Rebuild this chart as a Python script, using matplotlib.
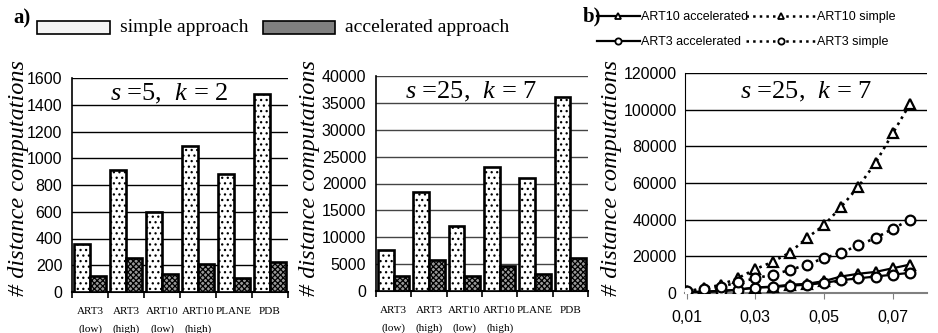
import numpy as np
import matplotlib
matplotlib.use("Agg")
import matplotlib.pyplot as plt
from matplotlib.patches import Rectangle
from matplotlib.lines import Line2D

plt.rcParams['mathtext.fontset'] = 'custom'
plt.rcParams['mathtext.rm'] = 'Liberation Serif'
plt.rcParams['mathtext.it'] = 'Liberation Serif:italic'
plt.rcParams['hatch.linewidth'] = 0.9

SERIF = 'Liberation Serif'
SANS = 'Liberation Sans'

# ---- data -------------------------------------------------------------
datasets = ["ART3\n(low)", "ART3\n(high)", "ART10\n(low)", "ART10\n(high)", "PLANE", "PDB"]

simple_s5 = [360, 910, 600, 1090, 882, 1480]
accel_s5 = [120, 255, 137, 212, 102, 227]

simple_s25 = [7700, 18500, 12100, 23000, 21100, 36000]
accel_s25 = [2850, 5750, 2850, 4650, 3250, 6150]

radius = [0.01, 0.015, 0.02, 0.025, 0.03, 0.035, 0.04, 0.045,
          0.05, 0.055, 0.06, 0.065, 0.07, 0.075]
art10_simple = [1000, 2500, 4500, 8200, 13000, 17000, 22000, 30000,
                37000, 47000, 58000, 71000, 87000, 103000]
art3_simple = [1000, 2000, 3500, 5800, 8000, 10000, 12500, 15500,
               19000, 22000, 26000, 30000, 35000, 40000]
art10_accel = [200, 500, 1000, 1800, 3000, 3500, 4500, 5000,
               6500, 9000, 10500, 11500, 13500, 15500]
art3_accel = [500, 800, 1200, 1800, 3000, 3200, 4000, 4500,
              5500, 7000, 8000, 9000, 10000, 11000]

W, H = 938, 333
fig = plt.figure(figsize=(W / 100, H / 100), dpi=100)


def px_axes(l, r, t, b):
    return fig.add_axes([l / W, 1 - b / H, (r - l) / W, (b - t) / H])


def bar_panel(ax, simple, accel, ymax, step, title, gridcol):
    x = np.arange(len(datasets))
    bw = 0.44
    ax.bar(x - bw / 2, simple, bw, color='white', edgecolor='black',
           hatch='...', linewidth=1.9, zorder=3)
    ax.bar(x + bw / 2, accel, bw, color='#9a9a9a', edgecolor='black',
           hatch='xxxxxx', linewidth=1.9, zorder=3)
    ax.set_xlim(-0.5, len(datasets) - 0.5)
    ax.set_ylim(0, ymax)
    ax.set_yticks(np.arange(0, ymax + 1, step))
    ax.grid(axis='y', color=gridcol, linewidth=1.0, zorder=0)
    ax.set_axisbelow(True)
    ax.set_xticks(x)
    ax.set_xticklabels(datasets, fontfamily=SERIF, fontsize=8, linespacing=2.1,
                       va='top')
    ax.set_xticks(np.arange(-0.5, len(datasets)), minor=True)
    ax.tick_params(axis='x', which='major', length=0, pad=11)
    ax.tick_params(axis='x', which='minor', length=4, width=1.2, direction='out')
    ax.tick_params(axis='y', length=0, labelsize=11.5, pad=7)
    for lab in ax.get_yticklabels():
        lab.set_fontfamily(SANS)
    for s in ['top', 'right']:
        ax.spines[s].set_visible(False)
    ax.spines['left'].set_linewidth(1.2)
    ax.spines['bottom'].set_linewidth(1.5)
    ax.text(0.45, 0.925, title, transform=ax.transAxes, ha='center', va='center',
            fontfamily=SERIF, fontsize=19)


ax1 = px_axes(72, 288, 78, 292)
bar_panel(ax1, simple_s5, accel_s5, 1600, 200, r"$s$ =5,  $k$ = 2", 'black')

ax2 = px_axes(376, 588, 76, 291)
bar_panel(ax2, simple_s25, accel_s25, 40000, 5000, r"$s$ =25,  $k$ = 7", '#444444')

ax3 = px_axes(685, 927, 73, 293)
mk = dict(ms=7, mfc='white', mew=1.6, zorder=4)
ax3.plot(radius, art10_accel, '-', color='black', lw=1.6, marker='^', **mk)
ax3.plot(radius, art3_accel, '-', color='black', lw=1.6, marker='o', **mk)
ax3.plot(radius, art10_simple, ':', color='black', lw=1.9, marker='^', **mk)
ax3.plot(radius, art3_simple, ':', color='black', lw=1.9, marker='o', **mk)
ax3.set_xlim(0.0095, 0.08)
ax3.set_ylim(0, 120000)
ax3.set_yticks(np.arange(0, 120001, 20000))
ax3.set_xticks([0.01, 0.03, 0.05, 0.07])
ax3.set_xticklabels(['0,01', '0,03', '0,05', '0,07'])
ax3.grid(axis='y', color='black', linewidth=1.0, zorder=0)
ax3.tick_params(axis='both', labelsize=11.5, length=4)
ax3.tick_params(axis='y', length=0, pad=6)
ax3.tick_params(axis='x', color='#808080', pad=8)
for lab in ax3.get_xticklabels() + ax3.get_yticklabels():
    lab.set_fontfamily(SANS)
for s in ['top', 'right']:
    ax3.spines[s].set_visible(False)
ax3.spines['bottom'].set_color('#808080')
ax3.spines['bottom'].set_linewidth(1.5)
ax3.text(0.5, 0.915, r"$s$ =25,  $k$ = 7", transform=ax3.transAxes, ha='center',
         va='center', fontfamily=SERIF, fontsize=19)

# y labels
for xc in [19, 309, 611]:
    fig.text(xc / W, 1 - 178 / H, "# distance computations", rotation=90,
             ha='center', va='center', fontfamily=SERIF, fontstyle='italic',
             fontsize=17.5)

# legend a)
fig.text(13 / W, 1 - 18 / H, "a)", fontfamily=SERIF, fontweight='bold',
         fontsize=15, ha='left', va='center')
fig.patches.append(Rectangle((37 / W, 1 - 34 / H), 73 / W, 13 / H,
                             transform=fig.transFigure, facecolor='#f4f4f4',
                             edgecolor='black', linewidth=1.2))
fig.text(120 / W, 1 - 27 / H, "simple approach", fontfamily=SERIF, fontsize=14,
         ha='left', va='center')
fig.patches.append(Rectangle((263 / W, 1 - 34 / H), 72 / W, 13 / H,
                             transform=fig.transFigure, facecolor='#808080',
                             edgecolor='black', linewidth=1.2))
fig.text(345 / W, 1 - 27 / H, "accelerated approach", fontfamily=SERIF,
         fontsize=14, ha='left', va='center')

# legend b)
fig.text(583 / W, 1 - 16 / H, "b)", fontfamily=SERIF, fontweight='bold',
         fontsize=15, ha='left', va='center')
lmk = dict(ms=4.5, mfc='white', mew=1.3)
solid_h = [Line2D([], [], color='black', lw=1.6, marker='^', **lmk),
           Line2D([], [], color='black', lw=1.6, marker='o', **lmk)]
dot_h = [Line2D([], [], color='black', lw=1.8, ls=':', marker='^', **lmk),
         Line2D([], [], color='black', lw=1.8, ls=':', marker='o', **lmk)]
common = dict(loc='upper left', frameon=False, prop={'family': SANS, 'size': 9},
              handletextpad=0.1, labelspacing=1.05, borderpad=0, borderaxespad=0)
leg1 = fig.legend(solid_h, ["ART10 accelerated", "ART3 accelerated"],
                  bbox_to_anchor=(597 / W, 1 - 11 / H), handlelength=3.4, **common)
leg2 = fig.legend(dot_h, ["ART10 simple", "ART3 simple"],
                  bbox_to_anchor=(746 / W, 1 - 11 / H), handlelength=5.6, **common)

fig.savefig("out.png", dpi=100)
